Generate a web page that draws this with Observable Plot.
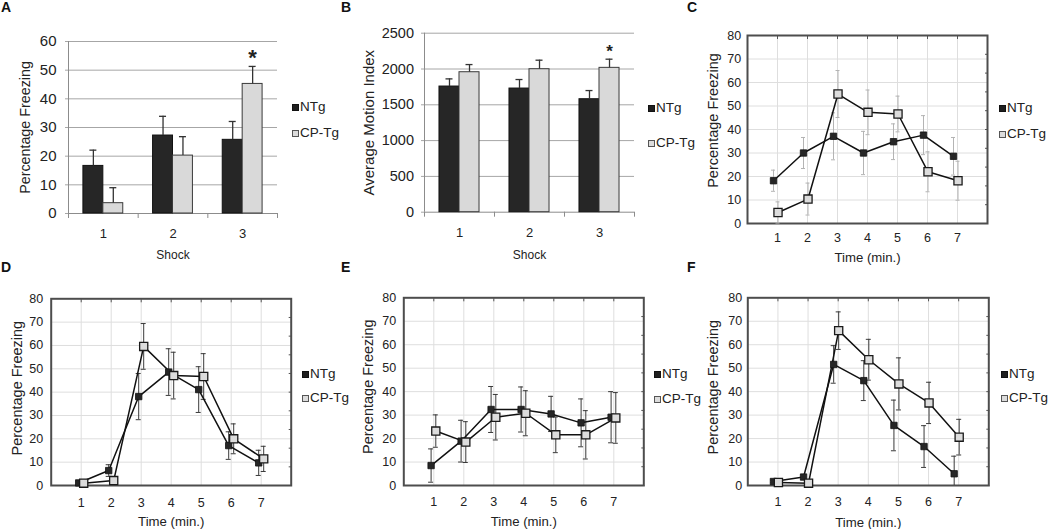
<!DOCTYPE html>
<html><head><meta charset="utf-8">
<script src="https://cdn.jsdelivr.net/npm/d3@7"></script>
<script src="https://cdn.jsdelivr.net/npm/@observablehq/plot@0.6"></script>
<style>
html,body{margin:0;padding:0;background:#fff;}
#root{position:relative;width:1050px;height:529px;overflow:hidden;font-family:"Liberation Sans",Arial,sans-serif;color:#222;}
.letter{position:absolute;font-weight:bold;font-size:14px;line-height:14px;color:#111;}
.leg{position:absolute;height:14px;font-size:13.5px;line-height:14px;white-space:nowrap;color:#222;}
.leg .sw{position:absolute;left:0;top:4px;width:5px;height:5px;}
.leg .lt{position:absolute;left:8px;top:0;}
</style></head><body><div id="root"></div>
<script>
// ---------------- DATA ----------------
const groups = ["NTg", "CP-Tg"];
const shocks = [1, 2, 3];
const minutes = [1, 2, 3, 4, 5, 6, 7];
const yTicksFreeze = [0, 10, 20, 30, 40, 50, 60];
const yTicksMotion = [0, 500, 1000, 1500, 2000, 2500];
const yTicksTime = [0, 10, 20, 30, 40, 50, 60, 70, 80];

// Panel A: percentage freezing per shock (mean, upper SEM)
const aNTg = [16.6, 27.2, 25.7];
const aNTgErr = [5.5, 6.7, 6.4];
const aCP = [3.6, 20.2, 45.2];
const aCPErr = [5.4, 6.6, 6.1];
const aSig = [3];

// Panel B: average motion index per shock
const bNTg = [1755, 1727, 1578];
const bNTgErr = [107, 126, 121];
const bCP = [1955, 1997, 2016];
const bCPErr = [107, 126, 121];
const bSig = [3];

// Panel C: freezing by minute
const cNTg = [18.2, 30.0, 37.1, 30.0, 34.8, 37.6, 28.6];
const cNTgErr = [4.5, 6.6, 10.0, 9.2, 7.6, 8.3, 8.0];
const cCP = [4.7, 10.4, 55.1, 47.3, 46.6, 22.0, 18.2];
const cCPErr = [4.5, 6.8, 10.0, 9.5, 7.6, 8.5, 8.3];

// Panel D
const dNTg = [1.1, 6.4, 38.1, 48.6, 41.1, 17.1, 9.7];
const dNTgErr = [0.5, 2.5, 9.9, 10.0, 9.8, 5.9, 5.4];
const dCP = [1.0, 2.1, 59.6, 47.1, 46.7, 20.0, 11.4];
const dCPErr = [0.5, 1.0, 9.8, 10.0, 9.8, 6.4, 5.4];

// Panel E
const eNTg = [8.5, 18.9, 32.4, 32.4, 30.5, 26.7, 29.1];
const eNTgErr = [7.1, 8.9, 9.8, 9.6, 7.5, 10.2, 10.9];
const eCP = [23.2, 18.5, 29.1, 30.8, 21.6, 21.6, 28.8];
const eCPErr = [6.9, 8.7, 9.7, 9.6, 7.6, 10.3, 10.8];

// Panel F
const fNTg = [1.7, 3.6, 51.6, 44.7, 25.6, 16.6, 5.0];
const fNTgErr = [0.5, 1.0, 8.0, 8.5, 10.8, 8.9, 7.5];
const fCP = [1.3, 1.0, 66.0, 53.6, 43.3, 35.2, 20.6];
const fCPErr = [0.5, 0.5, 8.0, 8.7, 11.1, 8.8, 7.6];

// ---------------- HELPERS ----------------
const FONT = '"Liberation Sans", Arial, sans-serif';
const root = document.getElementById("root");
const plain = d => String(d);
function place(node, left, top) {
  node.style.position = "absolute";
  node.style.left = left + "px";
  node.style.top = top + "px";
  node.style.maxWidth = "none";
  root.appendChild(node);
}
function barRows(ntg, ntgErr, cp, cpErr, sig) {
  const rows = [];
  shocks.forEach((s, i) => {
    rows.push({shock: s, group: "NTg", value: ntg[i], err: ntgErr[i], sig: false});
    rows.push({shock: s, group: "CP-Tg", value: cp[i], err: cpErr[i], sig: sig.includes(s)});
  });
  return rows;
}
function lineRows(ntg, ntgErr, cp, cpErr) {
  const rows = [];
  minutes.forEach((t, i) => {
    rows.push({t, group: "NTg", mean: ntg[i], se: ntgErr[i]});
    rows.push({t, group: "CP-Tg", mean: cp[i], se: cpErr[i]});
  });
  return rows;
}
const barStyle = {
  "NTg": {fill: "#262626", stroke: "#111"},
  "CP-Tg": {fill: "#d9d9d9", stroke: "#3a3a3a"}
};
const dotStyle = {
  "NTg": {fill: "#262626", stroke: "#111", r: 3.6, strokeWidth: 0.8},
  "CP-Tg": {fill: "#dcdcdc", stroke: "#1a1a1a", r: 4.6, strokeWidth: 1.3}
};

function barPanel(o) {
  const rows = barRows(...o.data);
  const bw = 0.286;
  const xc = d => d.group === "NTg" ? d.shock - bw / 2 : d.shock + bw / 2;
  const marks = [
    Plot.gridY(o.yTicks.slice(1), {stroke: "#a6a6a6", strokeOpacity: 1, strokeWidth: 1}),
    Plot.axisY(o.yTicks, {tickSize: 3, tickPadding: o.yTickPad, fontSize: o.yTickFont, stroke: "#a6a6a6", fill: "#222", tickFormat: plain, label: null}),
    Plot.ruleX([0.5], {stroke: "#8c8c8c"}),
    Plot.ruleY([0], {stroke: "#8c8c8c"}),
    Plot.axisX([0.5, 1.5, 2.5, 3.5], {tickSize: 5, tickFormat: () => "", stroke: "#8c8c8c", label: null}),
    Plot.axisX(shocks, {tickSize: 0, tickPadding: o.xTickPad, fontSize: 13, fill: "#222", tickFormat: plain, label: null})
  ];
  groups.forEach(g => {
    const rg = rows.filter(d => d.group === g);
    marks.push(Plot.rect(rg, {
      x1: d => g === "NTg" ? d.shock - bw : d.shock,
      x2: d => g === "NTg" ? d.shock : d.shock + bw,
      y1: 0, y2: "value", fill: barStyle[g].fill, stroke: barStyle[g].stroke, strokeWidth: 1
    }));
  });
  marks.push(
    Plot.ruleX(rows, {x: xc, y1: "value", y2: d => d.value + d.err, stroke: "#333", strokeWidth: 1.3}),
    Plot.ruleY(rows, {x1: xc, x2: xc, y: d => d.value + d.err, insetLeft: -3.5, insetRight: -3.5, stroke: "#333", strokeWidth: 1.3}),
    Plot.text(rows.filter(d => d.sig), {x: xc, y: d => d.value + d.err, text: () => "*", dy: o.starDy, fontSize: o.starSize, fontWeight: "bold", fill: "#222"}),
    Plot.text([o.yLabel], {text: d => d, frameAnchor: "left", textAnchor: "middle", lineAnchor: "middle", rotate: -90, dx: o.yLabelDx, fontSize: o.yLabelFont, fill: "#222"}),
    Plot.text(["Shock"], {text: d => d, frameAnchor: "bottom", textAnchor: "middle", lineAnchor: "middle", dy: o.xLabelDy, fontSize: 12, fill: "#222"})
  );
  const svg = Plot.plot({
    width: o.w, height: o.h,
    marginLeft: o.m[0], marginRight: o.m[1], marginTop: o.m[2], marginBottom: o.m[3],
    x: {domain: [0.5, 3.5]},
    y: {domain: [0, o.yTicks[o.yTicks.length - 1]]},
    style: {fontFamily: FONT, fontSize: "12px", color: "#222", background: "none", overflow: "visible"},
    marks
  });
  place(svg, o.left, o.top);
}

function linePanel(o) {
  const rows = lineRows(...o.data);
  const marks = [
    Plot.gridX(minutes, {stroke: "#dedede", strokeOpacity: 1}),
    Plot.gridY(yTicksTime.slice(1, -1), {stroke: "#dedede", strokeOpacity: 1}),
    Plot.axisY(yTicksTime, {tickSize: 0, tickPadding: o.yTickPad, fontSize: 12.5, fill: "#222", tickFormat: plain, label: null}),
    Plot.axisX(minutes, {tickSize: 0, tickPadding: o.xTickPad, fontSize: 12.5, fill: "#222", tickFormat: plain, label: null}),
    Plot.axisX(minutes, {anchor: "top", tickSize: 3, dy: 3, tickFormat: () => "", stroke: "#555", label: null}),
    Plot.axisY([0, 8, 16, 24, 32, 40, 48, 56, 64, 72], {anchor: "right", tickSize: 3, dx: -3, tickFormat: () => "", stroke: "#555", label: null}),
    Plot.frame({stroke: "#4d4d4d", strokeWidth: 2})
  ];
  groups.forEach(g => {
    const rg = rows.filter(d => d.group === g);
    const dx = o.dodge[g];
    marks.push(
      Plot.ruleX(rg, {x: "t", y1: d => Math.max(0, d.mean - d.se), y2: d => d.mean + d.se, stroke: o.errColor, strokeWidth: 1, dx}),
      Plot.ruleY(rg, {x1: "t", x2: "t", y: d => d.mean + d.se, insetLeft: -o.cap, insetRight: -o.cap, stroke: o.errColor, strokeWidth: 1, dx}),
      Plot.ruleY(rg.filter(d => d.mean - d.se > 0), {x1: "t", x2: "t", y: d => d.mean - d.se, insetLeft: -o.cap, insetRight: -o.cap, stroke: o.errColor, strokeWidth: 1, dx})
    );
  });
  groups.forEach(g => {
    const rg = rows.filter(d => d.group === g);
    marks.push(Plot.line(rg, {x: "t", y: "mean", stroke: "#111", strokeWidth: 1.5, dx: o.dodge[g]}));
  });
  groups.forEach(g => {
    const rg = rows.filter(d => d.group === g);
    const s = dotStyle[g];
    marks.push(Plot.dot(rg, {x: "t", y: "mean", symbol: "square", r: s.r, fill: s.fill, stroke: s.stroke, strokeWidth: s.strokeWidth, dx: o.dodge[g]}));
  });
  marks.push(
    Plot.text(["Percentage Freezing"], {text: d => d, frameAnchor: "left", textAnchor: "middle", lineAnchor: "middle", rotate: -90, dx: o.yLabelDx, dy: o.yLabelDy, fontSize: 14.5, fill: "#222"}),
    Plot.text(["Time (min.)"], {text: d => d, frameAnchor: "bottom", textAnchor: "middle", lineAnchor: "middle", dy: o.xLabelDy, fontSize: 13.2, fill: "#222"})
  );
  const svg = Plot.plot({
    width: o.w, height: o.h,
    marginLeft: o.m[0], marginRight: o.m[1], marginTop: o.m[2], marginBottom: o.m[3],
    x: {domain: [0, 8]},
    y: {domain: [0, 80]},
    style: {fontFamily: FONT, fontSize: "12px", color: "#222", background: "none", overflow: "visible"},
    marks
  });
  place(svg, o.left, o.top);
}

function legend(x, yN, yC) {
  groups.forEach((g, i) => {
    const cy = i === 0 ? yN : yC;
    const row = document.createElement("div");
    row.className = "leg";
    row.style.left = x + "px";
    row.style.top = (cy - 7) + "px";
    const sw = document.createElement("span");
    sw.className = "sw";
    sw.style.background = g === "NTg" ? "#1f1f1f" : "#dcdcdc";
    sw.style.border = "1px solid " + (g === "NTg" ? "#111" : "#555");
    const tx = document.createElement("span");
    tx.className = "lt";
    tx.textContent = g;
    row.appendChild(sw); row.appendChild(tx);
    root.appendChild(row);
  });
}
function letter(t, x, y) {
  const d = document.createElement("div");
  d.className = "letter";
  d.textContent = t;
  d.style.left = x + "px"; d.style.top = y + "px";
  root.appendChild(d);
}

// ---------------- PANELS ----------------
barPanel({left: 0, top: 0, w: 290, h: 262, m: [68, 13, 41, 49],
  data: [aNTg, aNTgErr, aCP, aCPErr, aSig], yTicks: yTicksFreeze,
  yTickPad: 9, yTickFont: 15, xTickPad: 15, yLabel: "Percentage Freezing", yLabelFont: 14.3,
  yLabelDx: -43, xLabelDy: 42, starSize: 22, starDy: -8});
barPanel({left: 360, top: 0, w: 290, h: 262, m: [64, 16, 32.7, 50.3],
  data: [bNTg, bNTgErr, bCP, bCPErr, bSig], yTicks: yTicksMotion,
  yTickPad: 7.5, yTickFont: 14.5, xTickPad: 15.4, yLabel: "Average Motion Index", yLabelFont: 15,
  yLabelDx: -55.7, xLabelDy: 43.3, starSize: 17, starDy: -8});
linePanel({left: 700, top: 0, w: 300, h: 262, m: [47, 13, 35, 39],
  data: [cNTg, cNTgErr, cCP, cCPErr], errColor: "#b4b4b4", cap: 2,
  dodge: {"NTg": -4, "CP-Tg": 0.5}, yTickPad: 6.3, xTickPad: 9.7, yLabelDx: -33.7, yLabelDy: -9, xLabelDy: 34.3});
linePanel({left: 0, top: 262, w: 300, h: 267, m: [50.7, 9.3, 36.3, 44],
  data: [dNTg, dNTgErr, dCP, dCPErr], errColor: "#3a3a3a", cap: 2.5,
  dodge: {"NTg": -2.5, "CP-Tg": 2.5}, yTickPad: 8, xTickPad: 12.6, yLabelDx: -34, yLabelDy: -4, xLabelDy: 36.7});
linePanel({left: 350, top: 262, w: 300, h: 267, m: [53.3, 6.7, 35.3, 44],
  data: [eNTg, eNTgErr, eCP, eCPErr], errColor: "#3a3a3a", cap: 2.5,
  dodge: {"NTg": -2.7, "CP-Tg": 2}, yTickPad: 7.6, xTickPad: 12.1, yLabelDx: -35, yLabelDy: -5, xLabelDy: 36.7});
linePanel({left: 700, top: 262, w: 300, h: 267, m: [47.3, 11.7, 35.3, 44],
  data: [fNTg, fNTgErr, fCP, fCPErr], errColor: "#3a3a3a", cap: 2.5,
  dodge: {"NTg": -4.5, "CP-Tg": 0.5}, yTickPad: 5.6, xTickPad: 12.1, yLabelDx: -34, yLabelDy: -4.5, xLabelDy: 37.3});

legend(292, 107, 133);
legend(648, 108, 143);
legend(999, 108, 134);
legend(302, 374, 398);
legend(654, 374, 399);
legend(1001, 374, 398);

letter("A", 1, 0);
letter("B", 341, 0);
letter("C", 687, 0);
letter("D", 1, 260);
letter("E", 341, 260);
letter("F", 687, 260);
</script></body></html>
